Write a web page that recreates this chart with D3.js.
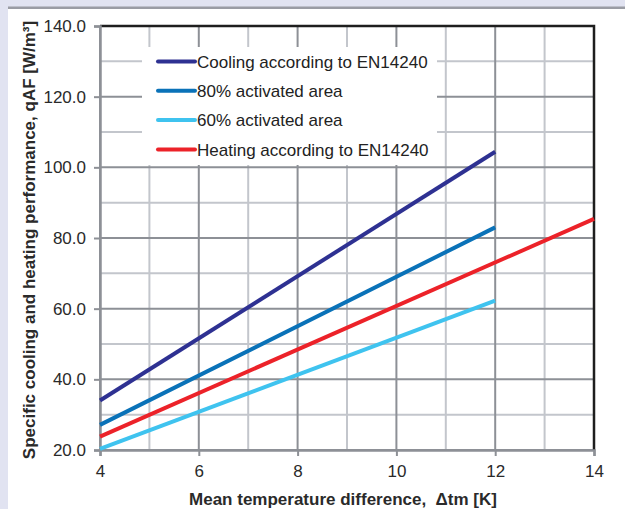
<!DOCTYPE html>
<meta charset="utf-8">
<style>
body { margin: 0; background: #e1e3f1; }
svg { display: block; }
.tick text { font: 17px "Liberation Sans", Arial, sans-serif; fill: #2a2a2a; }
.lbl { font: bold 17px "Liberation Sans", Arial, sans-serif; fill: #2a2a2a; }
.leg { font: 17px "Liberation Sans", Arial, sans-serif; fill: #222; }
</style>
<svg width="625" height="509"></svg>
<script src="https://cdn.jsdelivr.net/npm/d3@7/dist/d3.min.js"></script>
<script>

// series: values at the x positions given
var coolX = [4, 12], coolY = [34.0, 104.4];
var a80X = [4, 12], a80Y = [27.1, 83.0];
var a60X = [4, 12], a60Y = [20.3, 62.3];
var heatX = [4, 14], heatY = [23.8, 85.4];

var names = ["Cooling according to EN14240", "80% activated area", "60% activated area", "Heating according to EN14240"];
var colors = ["#2e3192", "#0a72b8", "#3fc3ef", "#ec2229"];

var xMajor = [4, 6, 8, 10, 12, 14],
    xMinor = [5, 7, 9, 11, 13],
    yMajor = [20, 40, 60, 80, 100, 120, 140],
    yMinor = [30, 50, 70, 90, 110, 130];

var svg = d3.select("svg");

// page frame
svg.append("rect").attr("x", 8).attr("y", 8).attr("width", 617).attr("height", 501).attr("fill", "#fff");
svg.append("rect").attr("x", 8).attr("y", 6.5).attr("width", 617).attr("height", 2.5).attr("fill", "#9a9ca4");

var margin = {left: 100, top: 26, right: 31, bottom: 59},
    width = 625 - margin.left - margin.right,
    height = 509 - margin.top - margin.bottom,
    g = svg.append("g").attr("transform", "translate(" + margin.left + "," + margin.top + ")");

var x = d3.scaleLinear().domain([4, 14]).range([0, width]),
    y = d3.scaleLinear().domain([20, 140]).range([height, 0]);

// grid
g.selectAll(".vmin").data(xMinor).enter().append("line")
    .attr("x1", x).attr("x2", x).attr("y1", 0).attr("y2", height)
    .attr("stroke", "#c3c6cc").attr("stroke-width", 2);
g.selectAll(".hmin").data(yMinor).enter().append("line")
    .attr("y1", y).attr("y2", y).attr("x1", 0).attr("x2", width)
    .attr("stroke", "#c3c6cc").attr("stroke-width", 2);
g.selectAll(".vmaj").data(xMajor).enter().append("line")
    .attr("x1", x).attr("x2", x).attr("y1", 0).attr("y2", height)
    .attr("stroke", "#8d9096").attr("stroke-width", 2);
g.selectAll(".hmaj").data(yMajor).enter().append("line")
    .attr("y1", y).attr("y2", y).attr("x1", 0).attr("x2", width)
    .attr("stroke", "#8d9096").attr("stroke-width", 2);

// legend box covers the grid
g.append("rect").attr("x", 42).attr("y", 21).attr("width", 295).attr("height", 118).attr("fill", "#fff");

// frame top/right
g.append("path").attr("d", "M0,0H" + width + "V" + height)
    .attr("fill", "none").attr("stroke", "#1e1e1e").attr("stroke-width", 2.5);

// axes
var xAxis = g.append("g").attr("transform", "translate(0," + height + ")")
    .call(d3.axisBottom(x).tickValues(xMajor).tickSize(6).tickPadding(7).tickFormat(d3.format("d")));
var yAxis = g.append("g")
    .call(d3.axisLeft(y).tickValues(yMajor).tickSize(6).tickPadding(8).tickFormat(d3.format(".1f")));
[xAxis, yAxis].forEach(function(a) {
  a.select(".domain").attr("stroke", "#8d9096").attr("stroke-width", 2.5);
  a.selectAll(".tick line").attr("stroke", "#8d9096").attr("stroke-width", 2);
});
xAxis.selectAll(".tick text").attr("dy", "0.85em");

// lines
var line = d3.line().x(function(d) { return x(d[0]); }).y(function(d) { return y(d[1]); });
var series = [[coolX, coolY], [a80X, a80Y], [a60X, a60Y], [heatX, heatY]];
series.forEach(function(s, i) {
  g.append("path")
      .datum(d3.zip(s[0], s[1]))
      .attr("d", line)
      .attr("fill", "none")
      .attr("stroke", colors[i])
      .attr("stroke-width", 4);
});

// legend
var leg = g.selectAll(".legitem").data(names).enter().append("g")
    .attr("transform", function(d, i) { return "translate(58," + (35.5 + i * 29.3) + ")"; });
leg.append("line").attr("x1", 0).attr("x2", 37)
    .attr("stroke", function(d, i) { return colors[i]; })
    .attr("stroke-width", 4).attr("stroke-linecap", "round");
leg.append("text").attr("class", "leg").attr("x", 39).attr("dy", "0.36em").text(function(d) { return d; });

// axis titles
svg.append("text").attr("class", "lbl")
    .attr("x", 343).attr("y", 505).attr("text-anchor", "middle")
    .text("Mean temperature difference,\u00a0 \u0394tm [K]");
svg.append("text").attr("class", "lbl")
    .attr("transform", "translate(35,240) rotate(-90)").attr("text-anchor", "middle")
    .text("Specific cooling and heating performance, qAF [W/m\u00b3]");

</script>
